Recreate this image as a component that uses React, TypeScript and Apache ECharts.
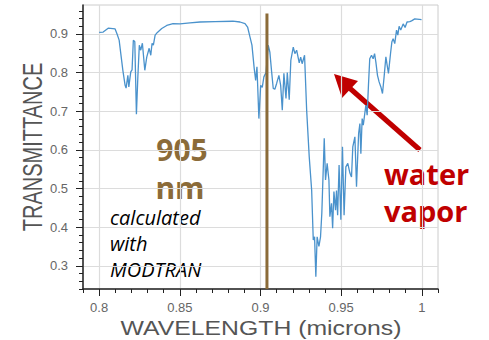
import React, { useEffect, useRef } from "react";
import * as echarts from "echarts";

const wavelength = [0.8000,0.8025,0.8056,0.8099,0.8111,0.8124,0.8134,0.8147,0.8161,0.8167,0.8178,0.8184,0.8196,0.8204,0.8212,0.8221,0.8231,0.8240,0.8249,0.8258,0.8268,0.8283,0.8295,0.8310,0.8320,0.8328,0.8336,0.8347,0.8361,0.8388,0.8419,0.8458,0.8501,0.8563,0.8625,0.8718,0.8829,0.8873,0.8904,0.8920,0.8935,0.8947,0.8961,0.8970,0.8978,0.8982,0.8990,0.9001,0.9011,0.9021,0.9034,0.9048,0.9058,0.9069,0.9079,0.9089,0.9100,0.9114,0.9125,0.9135,0.9145,0.9158,0.9166,0.9178,0.9188,0.9203,0.9213,0.9224,0.9240,0.9249,0.9258,0.9273,0.9286,0.9302,0.9317,0.9327,0.9335,0.9343,0.9351,0.9362,0.9372,0.9380,0.9395,0.9403,0.9413,0.9424,0.9430,0.9440,0.9447,0.9455,0.9465,0.9471,0.9478,0.9487,0.9498,0.9508,0.9518,0.9529,0.9541,0.9554,0.9564,0.9572,0.9585,0.9595,0.9608,0.9616,0.9622,0.9630,0.9637,0.9653,0.9661,0.9669,0.9677,0.9688,0.9698,0.9707,0.9715,0.9725,0.9735,0.9746,0.9756,0.9766,0.9777,0.9785,0.9793,0.9806,0.9814,0.9822,0.9832,0.9843,0.9851,0.9859,0.9869,0.9884,0.9896,0.9908,0.9925,0.9936,0.9956,0.9998];

const transmittance = [0.904,0.905,0.915,0.913,0.90,0.884,0.85,0.806,0.767,0.76,0.793,0.763,0.802,0.807,0.884,0.88,0.692,0.79,0.871,0.858,0.876,0.806,0.84,0.863,0.845,0.876,0.871,0.897,0.904,0.914,0.922,0.927,0.926,0.929,0.931,0.932,0.933,0.931,0.927,0.918,0.892,0.871,0.811,0.78,0.815,0.772,0.681,0.767,0.762,0.789,0.80,0.871,0.853,0.802,0.759,0.757,0.772,0.793,0.767,0.703,0.798,0.733,0.80,0.73,0.832,0.866,0.849,0.858,0.825,0.84,0.823,0.845,0.703,0.582,0.496,0.367,0.375,0.272,0.375,0.35,0.375,0.436,0.63,0.522,0.565,0.522,0.427,0.462,0.397,0.492,0.444,0.495,0.431,0.561,0.419,0.608,0.431,0.556,0.565,0.54,0.53,0.608,0.634,0.505,0.642,0.668,0.59,0.681,0.664,0.716,0.69,0.767,0.836,0.845,0.836,0.849,0.827,0.793,0.776,0.763,0.746,0.789,0.841,0.819,0.798,0.85,0.879,0.888,0.875,0.91,0.897,0.92,0.91,0.926,0.917,0.931,0.932,0.934,0.939,0.937];

const laserWavelength = 0.904;
const laserTop = 0.953;

const xMajorTicks = [0.8, 0.85, 0.9, 0.95, 1.0];
const xMinorTicks = [0.79,0.8,0.81,0.82,0.83,0.84,0.85,0.86,0.87,0.88,0.89,0.9,0.91,0.92,0.93,0.94,0.95,0.96,0.97,0.98,0.99,1.0,1.01];
const yMajorTicks = [0.3, 0.4, 0.5, 0.6, 0.7, 0.8, 0.9];
const yMinorTicks = [0.24,0.26,0.28,0.3,0.32,0.34,0.36,0.38,0.4,0.42,0.44,0.46,0.48,0.5,0.52,0.54,0.56,0.58,0.6,0.62,0.64,0.66,0.68,0.7,0.72,0.74,0.76,0.78,0.8,0.82,0.84,0.86,0.88,0.9,0.92,0.94,0.96];

const X_MIN = 0.79, X_MAX = 1.01, Y_MIN = 0.24, Y_MAX = 0.975;

const FONT = '"Liberation Sans", Arial, sans-serif';

export default function App() {
  const ref = useRef<HTMLDivElement>(null);
  useEffect(() => {
    if (!ref.current) return;
    const chart = echarts.init(ref.current, null, { renderer: "svg" });
    const lineData = wavelength.map((w, i) => [w, transmittance[i]]);
    const axisBase = { type: "value" as const, min: X_MIN, max: X_MAX };
    const center = { align: "center", verticalAlign: "middle", textAlign: "center", textVerticalAlign: "middle" };
    const left = { align: "left", verticalAlign: "middle", textAlign: "left", textVerticalAlign: "middle" };
    chart.setOption({
      animation: false,
      backgroundColor: "#ffffff",
      grid: { left: 83, top: 5, right: 51, bottom: 51, show: true, borderColor: "#cccccc", borderWidth: 1, backgroundColor: "transparent" },
      xAxis: [
        {
          ...axisBase,
          position: "bottom",
          axisLine: { show: true, lineStyle: { color: "#222", width: 1.5 } },
          axisTick: { show: true, customValues: xMinorTicks, length: 4, lineStyle: { color: "#222", width: 1 } },
          axisLabel: { show: false },
          splitLine: { show: false },
        },
        {
          ...axisBase,
          position: "bottom",
          axisLine: { show: false },
          axisTick: { show: true, customValues: xMajorTicks, length: 7, lineStyle: { color: "#222", width: 1 } },
          axisLabel: { show: true, customValues: xMajorTicks, margin: 12, color: "#666", fontSize: 13, fontFamily: FONT },
          splitLine: { show: true, lineStyle: { color: "#dcdcdc", width: 1.2 } },
        },
      ],
      yAxis: [
        {
          type: "value", min: Y_MIN, max: Y_MAX, position: "left",
          axisLine: { show: true, lineStyle: { color: "#222", width: 1.5 } },
          axisTick: { show: true, customValues: yMinorTicks, length: 4, lineStyle: { color: "#222", width: 1 } },
          axisLabel: { show: false },
          splitLine: { show: false },
        },
        {
          type: "value", min: Y_MIN, max: Y_MAX, position: "left",
          axisLine: { show: false },
          axisTick: { show: true, customValues: yMajorTicks, length: 7, lineStyle: { color: "#222", width: 1 } },
          axisLabel: { show: true, customValues: yMajorTicks, margin: 15, color: "#666", fontSize: 13, fontFamily: FONT },
          splitLine: { show: true, lineStyle: { color: "#dcdcdc", width: 1.2 } },
        },
      ],
      series: [
        {
          type: "line",
          xAxisIndex: 0, yAxisIndex: 0,
          data: lineData,
          showSymbol: false,
          symbol: "none",
          lineStyle: { color: "#4a92cc", width: 1.3 },
          z: 3,
        },
        {
          type: "line",
          xAxisIndex: 0, yAxisIndex: 0,
          data: [[laserWavelength, laserTop], [laserWavelength, Y_MIN]],
          showSymbol: false,
          symbol: "none",
          lineStyle: { color: "#8b6b38", width: 3 },
          z: 4,
        },
      ],
      graphic: [
        {
          type: "text", x: 32, y: 147, rotation: Math.PI / 2, scaleY: 1.35,
          style: { text: "TRANSMITTANCE", font: `20px ${FONT}`, fill: "#555", ...center },
        },
        {
          type: "text", x: 261, y: 328, scaleX: 1.24,
          style: { text: "WAVELENGTH (microns)", font: `20px ${FONT}`, fill: "#555", ...center },
        },
        {
          type: "text", x: 182, y: 149,
          style: { text: "905", font: 'bold 30px "Open Sans", sans-serif', lineHeight: 30, fill: "#8b6b38", ...center },
        },
        {
          type: "text", x: 180, y: 187,
          style: { text: "nm", font: 'bold 30px "Open Sans", sans-serif', lineHeight: 30, fill: "#8b6b38", ...center },
        },
        {
          type: "text", x: 110, y: 217,
          style: { text: "calculated", font: 'italic 20px "Open Sans", sans-serif', lineHeight: 22, fill: "#000", ...left },
        },
        {
          type: "text", x: 110, y: 243,
          style: { text: "with", font: 'italic 20px "Open Sans", sans-serif', lineHeight: 22, fill: "#000", ...left },
        },
        {
          type: "text", x: 110, y: 269,
          style: { text: "MODTRAN", font: 'italic 20px "Open Sans", sans-serif', lineHeight: 22, fill: "#000", ...left },
        },
        {
          type: "text", x: 384, y: 173,
          style: { text: "water", font: 'bold 29px "Open Sans", sans-serif', lineHeight: 29, fill: "#c00000", ...left },
        },
        {
          type: "text", x: 384, y: 210,
          style: { text: "vapor", font: 'bold 29px "Open Sans", sans-serif', lineHeight: 29, fill: "#c00000", ...left },
        },
        {
          type: "line",
          shape: { x1: 420, y1: 150, x2: 345, y2: 84 },
          style: { stroke: "#c00000", lineWidth: 5 },
        },
        {
          type: "polygon",
          shape: { points: [[334, 74], [358, 81], [342, 98]] },
          style: { fill: "#c00000" },
        },
      ],
    });
    return () => chart.dispose();
  }, []);
  return <div ref={ref} style={{ position: "absolute", left: 0, top: 0, width: 489, height: 340 }} />;
}
